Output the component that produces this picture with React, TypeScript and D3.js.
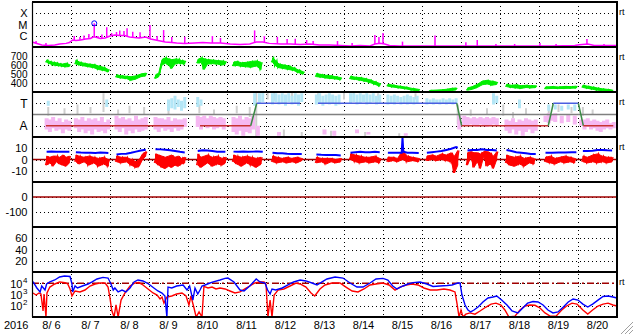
import React from "react";
import * as d3 from "d3";

// ---------- labels ----------
const yearLabel = "2016";
const dayLabels = ["8/ 6", "8/ 7", "8/ 8", "8/ 9", "8/10", "8/11", "8/12", "8/13", "8/14", "8/15", "8/16", "8/17", "8/18", "8/19", "8/20"];
const xrayTicks = [{ v: 1e-4, t: "X" }, { v: 1e-5, t: "M" }, { v: 1e-6, t: "C" }];
const speedTicks = [700, 600, 500, 400];
const phiTicks = [{ v: 270, t: "T" }, { v: 90, t: "A" }];
const bTicks = [10, 0, -10];
const dstTicks = [0, -100];
const kpTicks = [60, 40, 20];
const eTicks = [{ v: 1e4, p: "4" }, { v: 1e3, p: "3" }, { v: 1e2, p: "2" }];
const rtLabel = "rt";

// ---------- X-ray flux (hour from 8/6 00UT, W/m2) ----------
const xrayBase = [
  [0, 2.8e-7], [2, 2.3e-7], [4, 1.85e-7], [6, 1.5e-7], [10, 1.36e-7], [14, 1.5e-7], [17, 1.85e-7], [21, 2.1e-7], [23, 2.5e-7],
  [25, 4.2e-7], [27, 3.8e-7], [30, 4.2e-7], [33, 5.1e-7], [36, 5.7e-7], [37.5, 7.7e-7], [39, 7.7e-7], [42, 5.7e-7], [45, 6.3e-7],
  [48, 9.5e-7], [51, 1.17e-6], [54, 1.05e-6], [57, 1.05e-6], [60, 7.7e-7], [63, 7e-7], [66, 6.3e-7], [70, 7.7e-7], [73, 5.1e-7],
  [76, 4.2e-7], [79, 3.4e-7], [82, 2.8e-7], [86, 2.5e-7], [89, 2.3e-7], [94, 2.1e-7], [100, 2.3e-7], [105, 2.5e-7], [110, 2.3e-7],
  [116, 2.3e-7], [122, 1.85e-7], [128, 1.7e-7], [134, 1.85e-7], [138, 2.8e-7], [142, 2.8e-7], [146, 2.1e-7], [153, 1.85e-7],
  [159, 1.85e-7], [165, 1.7e-7], [171, 1.85e-7], [177, 1.5e-7], [183, 1.5e-7], [190, 1.36e-7], [196, 1.23e-7], [202, 1.36e-7],
  [208, 1.23e-7], [211, 1.85e-7], [214, 2.1e-7], [217, 1.85e-7], [220, 1.36e-7], [226, 1.23e-7], [240, 1.23e-7], [260, 1.2e-7],
  [280, 1.23e-7], [300, 1.2e-7], [320, 1.23e-7], [334, 1.36e-7], [337, 1.6e-7], [342, 1.85e-7], [346, 1.36e-7], [360, 1.36e-7],
];
const xraySpikes = [
  [2.5, 3.4e-7], [8.6, 2.3e-7], [26, 9.5e-7], [29.5, 7.7e-7], [32, 1.05e-6], [35, 1.43e-6], [38.3, 1.28e-5], [40.6, 9.5e-7],
  [43, 1.3e-6], [46, 5.6e-6], [49, 1.75e-6], [52, 2.15e-6], [54, 2.9e-6], [56.6, 2.6e-6], [58.5, 4.6e-6], [62, 2.3e-6],
  [66.5, 2.0e-6], [72.6, 9e-6], [77, 9.5e-7], [81, 3.2e-6], [86, 7.7e-7], [94, 8e-7], [111, 9.5e-7], [116, 6.3e-7], [137, 3e-6],
  [143, 9.5e-7], [151, 8e-7], [157, 5.1e-7], [162, 5.5e-7], [169, 4.2e-7], [173, 3.4e-7], [188, 3.4e-7], [197, 2.3e-7],
  [211, 1.17e-6], [213.5, 7.7e-7], [216, 1.75e-6], [228, 3e-7], [248, 1.05e-6], [267, 2.6e-7], [274, 4.2e-7], [285.5, 1.85e-7],
  [297, 1.85e-7], [312.6, 2.3e-7], [322.5, 1.85e-7], [341.5, 5.1e-7], [352, 1.85e-7],
];
const xrayFlare = [38.3, 1.28e-5];

// ---------- Solar wind speed [hour, low, high] km/s ----------
const speedBlocks = [
  [[9, 630, 655], [11, 615, 640], [13, 600, 630], [15, 595, 625], [17, 590, 615], [19, 585, 610], [21, 580, 620], [23, 585, 605]],
  [[27, 610, 655], [29.5, 600, 630], [32, 590, 620], [35, 580, 610], [38, 570, 605], [41, 550, 590], [44, 540, 575], [47, 525, 550]],
  [[52, 465, 490], [55, 455, 480], [58, 450, 475], [61, 430, 470], [64, 445, 480], [67, 470, 500], [70, 480, 510]],
  [[76, 450, 490], [78, 470, 510], [80, 600, 660], [82, 620, 680], [84, 600, 670], [86, 560, 660], [88, 610, 665], [90, 620, 665], [92, 615, 650], [94, 610, 645]],
  [[102, 620, 660], [104, 630, 680], [106, 550, 670], [108, 610, 660], [111, 615, 655], [114, 610, 650], [117, 600, 645], [119, 610, 640]],
  [[124, 590, 630], [126, 595, 640], [129, 585, 625], [132, 580, 630], [135, 575, 640], [138, 590, 645], [141, 550, 630]],
  [[148, 630, 680], [150, 590, 650], [152, 570, 610], [155, 560, 600], [158, 550, 590], [161, 540, 570], [164, 515, 545], [167, 500, 525]],
  [[175, 470, 505], [178, 465, 495], [181, 455, 485], [184, 450, 480], [187, 445, 470], [190, 435, 460]],
  [[196, 445, 475], [199, 440, 465], [202, 430, 460], [205, 420, 450], [208, 405, 435], [211, 385, 415], [214, 365, 395]],
  [[219, 365, 385], [222, 355, 378], [226, 345, 365], [230, 335, 355], [234, 320, 340], [238, 310, 330]],
  [[245, 310, 318], [252, 305, 325], [255, 310, 330], [258, 315, 340], [261, 325, 345]],
  [[268, 320, 345], [271, 330, 360], [274, 350, 385], [277, 380, 420], [280, 390, 430], [283, 375, 420], [286, 385, 410]],
  [[292, 360, 385], [295, 350, 375], [298, 345, 380], [301, 340, 370], [304, 350, 375], [307, 345, 370], [310, 350, 370]],
  [[316, 335, 355], [320, 340, 360], [324, 338, 356], [328, 340, 362], [332, 342, 360], [335, 345, 365]],
  [[339, 350, 375], [342, 340, 365], [345, 330, 355], [348, 320, 345], [351, 315, 335], [354, 312, 330], [357, 310, 322]],
];

// ---------- IMF sector (phi, deg) ----------
const sectorBlocks = [
  [[8.6, 90], [93.5, 90]],
  [[103.4, 90], [134.6, 90], [138.3, 270], [164.9, 270]],
  [[176, 270], [261.4, 270], [264.4, 90], [317.7, 90], [320.8, 270], [336.2, 270], [339.3, 90], [357.7, 90]],
];
const phiPink = [
  [9, 60, 150], [11, 40, 140], [13, 70, 160], [15, 50, 130], [17, 60, 150], [19, 30, 120], [21, 60, 140], [23, 50, 130],
  [27, 70, 150], [29, 40, 140], [31, 60, 160], [33, 30, 130], [35, 50, 150], [37, 20, 140], [39, 60, 150], [41, 40, 130], [43, 50, 160], [45, 30, 120], [47, 60, 140],
  [52, 60, 170], [54, 40, 150], [56, 70, 160], [58, 20, 140], [60, 50, 150], [62, 30, 130], [64, 60, 170], [66, 40, 140], [68, 50, 150], [70, 60, 160],
  [76, 60, 160], [78, 40, 150], [80, 70, 150], [82, 50, 140], [84, 60, 160], [86, 40, 130], [88, 70, 150], [90, 50, 140], [92, 60, 140], [94, 80, 150],
  [102, 80, 170], [104, 60, 160], [106, 90, 170], [108, 70, 150], [110, 80, 170], [112, 60, 160], [114, 70, 150], [116, 80, 160], [118, 60, 150],
  [124, 40, 160], [126, 20, 150], [128, 50, 170], [130, 10, 140], [132, 40, 160], [134, 30, 150], [136, 60, 170], [139, 10, 90],
  [152, 10, 40], [180, 20, 60], [186, 10, 50], [200, 30, 60], [207, 20, 40], [230, 10, 30],
  [263, 60, 180], [266, 90, 170], [268, 90, 160], [270, 100, 150], [272, 90, 160], [274, 80, 150], [276, 100, 160], [278, 90, 150], [280, 80, 160], [282, 90, 150], [284, 100, 160], [286, 90, 150],
  [292, 50, 140], [294, 30, 130], [296, 60, 150], [298, 20, 120], [300, 50, 140], [302, 10, 130], [304, 40, 150], [306, 60, 140], [308, 30, 130], [310, 50, 140],
  [316, 120, 170], [318, 110, 190], [320, 130, 180], [322, 120, 190], [326, 110, 170], [330, 120, 180], [334, 100, 170], [338, 90, 140],
  [340, 60, 140], [342, 80, 150], [344, 60, 130], [346, 70, 140], [348, 50, 130], [350, 40, 120], [352, 60, 130], [354, 70, 140], [356, 60, 110], [358, 70, 120],
];
const phiBlue = [
  [10, 250, 290], [46, 240, 300], [84, 210, 300], [86, 230, 310], [88, 220, 330], [90, 240, 300], [92, 210, 290], [94, 230, 320],
  [102, 240, 320], [104, 250, 300], [137, 250, 350],
  [140, 270, 350], [142, 280, 360], [148, 260, 350], [150, 280, 350], [152, 260, 340], [154, 270, 350], [156, 250, 340], [158, 280, 350], [160, 260, 330], [162, 270, 350], [164, 250, 340], [166, 280, 350],
  [175, 260, 340], [177, 270, 350], [179, 250, 330], [181, 270, 340], [183, 260, 350], [185, 270, 340], [187, 250, 330], [189, 260, 340],
  [196, 270, 350], [198, 280, 350], [200, 260, 340], [202, 270, 350], [204, 280, 340], [206, 260, 350], [208, 270, 340], [210, 280, 350], [212, 260, 330], [214, 270, 340],
  [219, 260, 340], [221, 270, 330], [223, 260, 340], [225, 280, 330], [227, 260, 320], [229, 270, 330], [231, 260, 340], [233, 270, 330], [235, 260, 320], [237, 270, 330],
  [243, 260, 310], [245, 270, 300], [247, 260, 310], [249, 270, 300], [251, 260, 300], [253, 270, 310], [255, 260, 300], [257, 270, 310], [259, 260, 300], [261, 270, 310],
  [284, 260, 350], [286, 270, 330], [300, 230, 300], [318, 210, 260], [322, 220, 260], [326, 210, 250], [330, 220, 260], [334, 210, 260],
];
const phiGray = [
  [10, 170, 240], [20, 180, 230], [28, 180, 260], [36, 190, 240], [44, 200, 350], [53, 180, 220], [60, 190, 250], [69, 180, 240],
  [84, 180, 230], [103, 190, 260], [112, 180, 220], [126, 190, 250], [134, 160, 240], [138, 0, 360], [145, 300, 360], [149, 290, 360],
  [155, 0, 60], [160, 300, 360], [166, 0, 40], [176, 290, 350], [184, 0, 50], [192, 300, 360], [198, 280, 360], [205, 0, 40],
  [213, 290, 350], [226, 0, 30], [236, 300, 350], [262, 100, 260], [270, 170, 220], [280, 180, 230], [290, 170, 260], [296, 150, 200],
  [304, 180, 230], [318, 190, 250], [324, 200, 260], [332, 190, 240], [339, 170, 240], [345, 180, 220],
];

// ---------- IMF Bz [hour, low, high] and Bt [hour, value] nT ----------
const bzBlocks = [
  [[9, -5, 3], [11, -3, 2], [13, -6, 3], [15, -2, 3], [17, -4, 2], [19, -5, 4], [21, -6, 2], [23, -3, 3]],
  [[27, -2, 4], [29, -4, 3], [32, -2, 2], [35, -5, 3], [38, -3, 2], [41, -6, 1], [44, -4, 2], [47, -6, 0]],
  [[52, -2, 3], [55, -3, 2], [58, -2, 2], [61, -5, 0], [64, -7, -2], [66, -6, 0], [68, 0, 5], [70, 3, 7]],
  [[76, -3, 5], [78, -5, 4], [80, -7, 3], [82, -8, 2], [84, -6, 3], [86, -7, 4], [88, -5, 2], [90, -6, 3], [92, -4, 1], [94, -3, 2]],
  [[102, -5, 5], [104, -7, 2], [106, -5, 3], [108, -3, 4], [111, -6, 2], [114, -4, 3], [117, -5, 1], [119, -3, 2]],
  [[124, -2, 4], [126, -4, 3], [129, -6, 2], [132, -3, 3], [135, -5, 2], [138, -7, 1], [141, -4, 2]],
  [[148, -2, 3], [151, -3, 2], [154, -2, 1], [157, -3, 2], [160, -2, 1], [163, -3, 2], [166, -1, 1]],
  [[175, -3, 2], [178, -2, 1], [181, -4, 1], [184, -2, 1], [187, -3, 0], [190, -2, 1]],
  [[196, 0, 5], [199, -2, 4], [202, -3, 3], [205, -2, 2], [208, -3, 2], [211, -2, 3], [214, -3, 1]],
  [[219, -2, 2], [222, -1, 2], [225, -2, 1], [228, 0, 8], [231, -2, 3], [234, -1, 2], [238, -2, 1]],
  [[243, -1, 3], [246, 0, 4], [249, -1, 3], [252, 0, 5], [255, -1, 4], [258, -2, 6], [260, -12, 3], [262, -5, 8]],
  [[268, -5, 6], [270, 2, 7], [272, -7, 6], [274, -2, 6], [276, -8, 5], [278, 3, 7], [280, -6, 7], [282, -4, 6], [284, -8, 3], [286, 0, 7]],
  [[292, -3, 4], [294, -5, 3], [297, -6, 2], [300, -4, 3], [303, -6, 1], [306, -3, 2], [309, -4, 1]],
  [[316, -2, 2], [319, -3, 3], [322, -4, 1], [325, -2, 2], [328, -3, 3], [331, -2, 2], [334, -3, 1]],
  [[339, -2, 3], [342, -3, 2], [345, -2, 4], [348, -3, 5], [351, -2, 3], [354, -3, 2], [357, -2, 2]],
];
const btBlocks = [
  [[9, 6.8], [12, 7], [15, 6.8], [18, 7], [21, 7], [23, 7]],
  [[27, 6.5], [30, 6.2], [33, 6], [36, 6], [39, 5.8], [42, 6.2], [45, 6], [47, 5.8]],
  [[52, 4.5], [55, 5], [58, 5.2], [61, 6], [64, 7], [67, 8], [70, 8.6]],
  [[76, 9.2], [79, 9], [82, 8.6], [85, 8.2], [88, 7.5], [91, 6.8], [94, 6.2]],
  [[102, 7.5], [105, 8.2], [108, 8], [111, 7.5], [114, 7], [117, 7], [119, 6.8]],
  [[124, 7], [127, 6.8], [130, 7], [133, 6.8], [136, 7], [139, 7.2], [142, 6.8]],
  [[148, 6], [151, 5.5], [154, 5.5], [157, 5.2], [160, 5], [163, 5], [166, 5]],
  [[175, 4.5], [178, 4.2], [181, 4], [184, 4], [187, 4], [190, 3.5]],
  [[196, 6], [199, 6.5], [202, 6.8], [205, 6.5], [208, 6.5], [211, 6.8], [214, 6.5]],
  [[219, 6], [222, 5.9], [225, 6], [227.5, 6], [228, 19.5], [228.5, 7], [231, 6], [234, 6], [238, 5.8]],
  [[243, 6], [246, 6.5], [249, 7], [252, 7.5], [255, 8.5], [258, 9.5], [261, 11], [262, 10.5]],
  [[268, 8], [271, 8.5], [274, 8.5], [277, 9], [280, 8.5], [283, 8.5], [286, 8]],
  [[292, 8.5], [295, 7.5], [298, 6.5], [301, 6], [304, 5.5], [307, 5], [310, 5]],
  [[316, 6], [320, 6], [324, 6.2], [328, 6.2], [332, 6.5], [335, 6.5]],
  [[339, 7.5], [342, 7.5], [345, 7.8], [348, 8.5], [351, 8.5], [354, 8.2], [357, 8]],
];

// ---------- Electron flux [hour, flux] ----------
const eBlue = [
  [0.6, 14000], [3, 3800], [5, 1700], [6, 5700], [8, 2500], [9, 8600], [11, 13000], [14, 19500], [17, 36000], [20, 44000], [23.4, 40000],
  [24.6, 8600], [25, 1700], [26.5, 5700], [28, 3800], [31, 5700], [34.5, 8600], [37, 13000], [40, 24000], [43.7, 33000], [46.8, 29000],
  [48.6, 8600], [50, 2500], [51, 3800], [53, 1700], [55.4, 2500], [57.8, 1700], [60.3, 3800], [62.8, 13000], [65.2, 19500], [68.3, 16000],
  [70.8, 10500], [72.6, 7000], [75, 3800], [77.5, 2050], [80, 1360], [81.8, 740], [83, 10], [83.7, 4600], [86, 3800], [89, 5700],
  [93, 7000], [95.4, 2500], [97, 5700], [99, 320], [100.3, 3800], [102, 1100], [103.4, 2500], [104.6, 5700], [106.5, 7000], [109.5, 10500],
  [112.6, 14500], [115.7, 19500], [118.8, 27000], [120.6, 29000], [124.3, 13000], [128, 2500], [130.5, 2050], [134, 5700], [138, 24000],
  [140.3, 13000], [143.4, 10500], [145, 2500], [146.5, 1100], [147.7, 3100], [150, 2500], [154, 3800], [157.5, 7000], [161, 13000],
  [165, 19500], [168.6, 16000], [172.3, 10500], [175.4, 7000], [178.5, 13000], [181.5, 24000], [186.5, 36000], [191.4, 29000],
  [195.7, 10500], [200, 4600], [203.7, 4600], [208, 10500], [211.7, 24000], [216, 27000], [219, 19500], [222, 5700], [224.6, 3100],
  [228.3, 5700], [231.4, 8600], [234.5, 11500], [238.8, 13000], [243, 8600], [246.8, 5200], [251, 5700], [255.4, 6300], [258.5, 7000],
  [262, 10500], [263.4, 10500], [264.6, 900], [266.5, 117], [268.3, 42], [270, 28], [272, 42], [274.5, 77], [277.5, 215], [280.6, 490],
  [283.7, 600], [286, 740], [289, 320], [292.3, 117], [295.4, 34], [299, 23], [302, 63], [305, 170], [308.3, 240], [311.4, 215],
  [314.5, 117], [317.5, 42], [320.6, 23], [323.7, 28], [327, 77], [330, 215], [333, 400], [336, 320], [339, 140], [342, 77], [345, 140],
  [348.3, 320], [351.4, 670], [354.5, 740], [357.5, 600], [360, 490],
];
const eRed = [
  [0.6, 1360], [2.5, 900], [4.3, 1360], [5.5, 1100], [6.8, 34], [7.4, 1100], [8.6, 10], [9.2, 1360], [11, 4600], [14, 8600], [17, 13000],
  [20.3, 11500], [22, 8600], [23.4, 3100], [24.6, 740], [26.5, 2050], [29.5, 1700], [32.6, 2500], [35.7, 5700], [38.8, 8600], [41.8, 10500],
  [45, 10500], [46.8, 4600], [48, 490], [49, 42], [50.5, 10], [51.7, 117], [53, 10], [54.8, 320], [57.2, 1360], [60.3, 5700], [63.4, 10500],
  [65.8, 11500], [68.3, 7000], [71.4, 3100], [74.5, 1360], [77, 900], [78.8, 400], [80, 600], [81.2, 170], [83, 600], [86, 740], [89, 1100],
  [92.3, 1360], [94.8, 740], [96.6, 117], [97.8, 740], [99.7, 63], [101, 10], [102.8, 28], [104.6, 10], [105.8, 5200], [108.3, 3800],
  [110.8, 4600], [113.2, 3100], [115.7, 3800], [118.8, 3100], [121.8, 2050], [124.9, 1360], [128, 1700], [131, 3100], [134, 5700],
  [137.2, 10500], [140.3, 13000], [142.8, 13000], [144, 8600], [145.2, 10], [146.5, 320], [147.7, 10], [149, 900], [151.4, 2500],
  [155, 3100], [158.8, 5700], [162.5, 10500], [165, 8600], [168.6, 4600], [171.7, 1360], [174, 740], [177.2, 3100], [180.3, 7000],
  [184.6, 10500], [189.5, 10500], [193.2, 4600], [197, 2050], [200.6, 1700], [204.3, 3100], [208, 7000], [211.7, 8600], [216, 10500],
  [219.7, 7000], [223.4, 2500], [226.5, 4600], [230.2, 7000], [233.8, 8600], [237.5, 7000], [241.2, 3800], [245, 2500], [249.2, 2500],
  [253.5, 3100], [257.2, 2500], [260.3, 1700], [261.5, 170], [262.8, 10], [264, 42], [265.2, 10], [267, 18], [269.5, 23], [272.6, 18],
  [275.7, 34], [279.4, 77], [282.5, 140], [285.5, 170], [288.6, 117], [291, 42], [293.5, 10], [297.2, 12], [300.3, 42], [303.4, 95],
  [306.5, 117], [309.5, 110], [312.6, 63], [315.7, 23], [318.8, 12], [322.5, 12], [326, 42], [329, 95], [332.3, 170], [335.4, 140],
  [339, 42], [342, 18], [345, 42], [348.3, 95], [351.4, 140], [354.5, 170], [357.5, 117], [360, 95],
];
const eThreshold = 1e4;

const FONT = "'Liberation Sans', Arial, Helvetica, sans-serif";

export default function App() {
  const X0 = 32, X1 = 617;
  const x = d3.scaleLinear().domain([0, 360]).range([X0, X1]);
  const tops = [2, 47, 92, 137, 182, 227, 272, 317];
  const yX = d3.scaleLog().domain([1e-7, 1e-3]).range([47, 2]);
  const ySp = d3.scaleLinear().domain([300, 800]).range([92, 47]);
  const yPhi = d3.scaleLinear().domain([0, 360]).range([137, 92]);
  const yB = d3.scaleLinear().domain([-20, 20]).range([182, 137]);
  const yDst = d3.scaleLinear().domain([-200, 100]).range([227, 182]);
  const yKp = d3.scaleLinear().domain([0, 80]).range([272, 227]);
  const yE = d3.scaleLog().domain([10, 1e5]).range([317, 272]).clamp(true);

  const crisp = (v: number) => Math.round(v) + 0.5;

  const hGrid = [
    ...xrayTicks.map((t) => yX(t.v)),
    ...speedTicks.map((t) => ySp(t)),
    ...phiTicks.map((t) => yPhi(t.v)),
    ...bTicks.map((t) => yB(t)),
    ...dstTicks.map((t) => yDst(t)),
    ...kpTicks.map((t) => yKp(t)),
    ...eTicks.map((t) => yE(t.v)),
  ];
  const vGrid = d3.range(1, 15).map((d) => x(d * 24));

  const bis = d3.bisector((d: any) => d[0]).left;
  const baseAt = (h: number) => {
    const i = bis(xrayBase, h);
    if (i <= 0) return xrayBase[0][1];
    if (i >= xrayBase.length) return xrayBase[xrayBase.length - 1][1];
    const a = xrayBase[i - 1], b = xrayBase[i];
    const t = (h - a[0]) / (b[0] - a[0]);
    return Math.pow(10, Math.log10(a[1]) * (1 - t) + Math.log10(b[1]) * t);
  };
  const lineX = d3.line<any>().x((d) => x(d[0])).y((d) => yX(d[1]));

  const bandArea = (ys: any) => d3.area<any>().x((d) => x(d[0])).y0((d) => ys(d[1])).y1((d) => ys(d[2]));
  const zig = (block: any[]) => block.flatMap((d) => [[d[0] - 0.7, d[1]], [d[0] + 0.7, d[2]]]);
  const lineLo = (ys: any) => d3.line<any>().x((d) => x(d[0])).y((d) => ys(d[1]));
  const lineE = d3.line<any>().x((d) => x(d[0])).y((d) => yE(d[1]));

  const sectorSegs: any[] = [];
  sectorBlocks.forEach((b) => {
    for (let i = 0; i < b.length - 1; i++) {
      const a = b[i], c = b[i + 1];
      const col = a[1] === 90 && c[1] === 90 ? "#c83232" : a[1] === 270 && c[1] === 270 ? "#4a5ee0" : "#3c8a46";
      sectorSegs.push({ a, c, col });
    }
  });

  const labelProps = { fontFamily: FONT, textAnchor: "end" as const, fill: "#000" };

  return (
    <svg width={633} height={334} style={{ position: "fixed", left: 0, top: 0, background: "#fff" }}>
      <rect x={0} y={0} width={633} height={334} fill="#fff" />
      <defs>
        {tops.slice(0, 7).map((t, i) => (
          <clipPath id={"cp" + i} key={i}>
            <rect x={X0} y={t} width={X1 - X0} height={45} />
          </clipPath>
        ))}
      </defs>

      {hGrid.map((y, i) => (
        <line key={"hg" + i} x1={X0} x2={X1} y1={crisp(y)} y2={crisp(y)} stroke="#000" strokeWidth={1} strokeDasharray="1,3" />
      ))}
      {vGrid.map((vx, i) => (
        <line key={"vg" + i} x1={crisp(vx)} x2={crisp(vx)} y1={2} y2={317} stroke="#000" strokeWidth={1} strokeDasharray="1,3" />
      ))}

      <g clipPath="url(#cp0)">
        <path d={lineX(xrayBase) || ""} fill="none" stroke="#ff00ff" strokeWidth={1.5} />
        {xraySpikes.map((s, i) => (
          <line key={"xs" + i} x1={x(s[0])} x2={x(s[0])} y1={yX(baseAt(s[0]))} y2={yX(s[1])} stroke="#ff00ff" strokeWidth={1.5} />
        ))}
        <circle cx={x(xrayFlare[0])} cy={yX(xrayFlare[1])} r={2.5} fill="none" stroke="#0000ff" strokeWidth={1} />
      </g>

      <g clipPath="url(#cp1)">
        {speedBlocks.map((b, i) => (
          <g key={"sp" + i}>
            <path d={bandArea(ySp)(b) || ""} fill="#00ee00" stroke="#00ee00" strokeWidth={1} />
            <path d={lineLo(ySp)(zig(b)) || ""} fill="none" stroke="#00ee00" strokeWidth={1.3} />
          </g>
        ))}
      </g>

      <g clipPath="url(#cp2)">
        {phiGray.map((d, i) => (
          <rect key={"pg" + i} x={x(d[0]) - 1} y={yPhi(d[2])} width={2} height={yPhi(d[1]) - yPhi(d[2])} fill="#cfcfcf" />
        ))}
        {phiPink.map((d, i) => (
          <rect key={"pp" + i} x={x(d[0]) - 2} y={yPhi(d[2])} width={4} height={yPhi(d[1]) - yPhi(d[2])} fill="#f6b8f2" />
        ))}
        {phiBlue.map((d, i) => (
          <rect key={"pb" + i} x={x(d[0]) - 1.5} y={yPhi(d[2])} width={3} height={yPhi(d[1]) - yPhi(d[2])} fill="#b4e6f6" />
        ))}
        <line x1={X0} x2={X1} y1={yPhi(180)} y2={yPhi(180)} stroke="#808080" strokeWidth={1.5} />
        {sectorSegs.map((s, i) => (
          <line key={"sg" + i} x1={x(s.a[0])} x2={x(s.c[0])} y1={yPhi(s.a[1])} y2={yPhi(s.c[1])} stroke={s.col} strokeWidth={1.5} />
        ))}
      </g>

      <g clipPath="url(#cp3)">
        <line x1={X0} x2={X1} y1={yB(0)} y2={yB(0)} stroke="#a00000" strokeWidth={1.5} />
        {bzBlocks.map((b, i) => (
          <g key={"bz" + i}>
            <path d={bandArea(yB)(b) || ""} fill="#ff0000" stroke="#ff0000" strokeWidth={1} />
            <path d={lineLo(yB)(zig(b)) || ""} fill="none" stroke="#ff0000" strokeWidth={1.3} />
          </g>
        ))}
        {btBlocks.map((b, i) => (
          <path key={"bt" + i} d={lineLo(yB)(b) || ""} fill="none" stroke="#0000ff" strokeWidth={2} />
        ))}
      </g>

      <line x1={X0} x2={X1} y1={yDst(0)} y2={yDst(0)} stroke="#a00000" strokeWidth={1.5} />

      <g clipPath="url(#cp6)">
        <line x1={X0} x2={X1} y1={yE(eThreshold)} y2={yE(eThreshold)} stroke="#a00000" strokeWidth={1.3} strokeDasharray="7,3,2,3" />
        <path d={lineE(eRed) || ""} fill="none" stroke="#ff0000" strokeWidth={1.4} />
        <path d={lineE(eBlue) || ""} fill="none" stroke="#0000ff" strokeWidth={1.4} />
      </g>

      {tops.map((t, i) => (
        <line key={"fr" + i} x1={X0} x2={X1 + 1} y1={t} y2={t} stroke="#000" strokeWidth={2} />
      ))}
      <line x1={X0 + 0.5} x2={X0 + 0.5} y1={2} y2={317} stroke="#000" strokeWidth={1.2} />
      <line x1={X1} x2={X1} y1={1} y2={318} stroke="#000" strokeWidth={2} />

      {xrayTicks.map((t, i) => (
        <text key={"lx" + i} x={27.5} y={yX(t.v) + 4} fontSize={11} {...labelProps}>{t.t}</text>
      ))}
      {speedTicks.map((t, i) => (
        <text key={"ls" + i} x={27.5} y={ySp(t) + 3.5} fontSize={10} {...labelProps}>{t}</text>
      ))}
      {phiTicks.map((t, i) => (
        <text key={"lp" + i} x={27.5} y={yPhi(t.v) + 4.5} fontSize={12} {...labelProps}>{t.t}</text>
      ))}
      {bTicks.map((t, i) => (
        <text key={"lb" + i} x={27.5} y={yB(t) + 4} fontSize={11} {...labelProps}>{t}</text>
      ))}
      {dstTicks.map((t, i) => (
        <text key={"ld" + i} x={27.5} y={yDst(t) + 4} fontSize={11} {...labelProps}>{t}</text>
      ))}
      {kpTicks.map((t, i) => (
        <text key={"lk" + i} x={27.5} y={yKp(t) + 4} fontSize={11} {...labelProps}>{t}</text>
      ))}
      {eTicks.map((t, i) => (
        <g key={"le" + i}>
          <text x={22.5} y={yE(t.v) + 4.5} fontSize={11} {...labelProps}>10</text>
          <text x={27.5} y={yE(t.v) - 0.5} fontSize={8} {...labelProps}>{t.p}</text>
        </g>
      ))}

      {[0, 1, 2, 3, 6].map((i) => (
        <text key={"rt" + i} x={619} y={tops[i] + 13} fontSize={9} fontFamily={FONT} fill="#000">{rtLabel}</text>
      ))}

      <text x={4} y={329} fontSize={11} fontFamily={FONT} fill="#000">{yearLabel}</text>
      {dayLabels.map((d, i) => (
        <text key={"dl" + i} x={x(i * 24 + 12)} y={329} fontSize={11} fontFamily={FONT} textAnchor="middle" fill="#000" style={{ whiteSpace: "pre" }}>{d}</text>
      ))}

      {[0, 4, 8].map((o, i) => (
        <line key={"gr" + i} x1={633} y1={322 + o} x2={621 + o} y2={334} stroke="#a0a0a0" strokeWidth={1} />
      ))}
    </svg>
  );
}
